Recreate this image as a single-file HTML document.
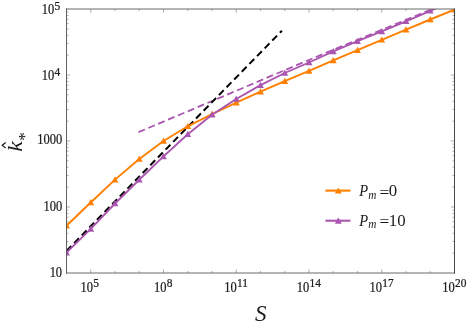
<!DOCTYPE html>
<html><head><meta charset="utf-8"><title>plot</title>
<style>
html,body{margin:0;padding:0;background:#fff;}
body{width:469px;height:327px;overflow:hidden;font-family:"Liberation Serif",serif;}
svg{display:block;position:absolute;left:0;top:0;will-change:transform;}
text{font-family:"Liberation Serif",serif;}
</style></head><body>
<svg width="469" height="327" viewBox="0 0 469 327">
<rect width="469" height="327" fill="#fff"/>
<defs><clipPath id="c"><rect x="66.50" y="9.00" width="388.00" height="264.00"/></clipPath></defs>

<path d="M90.75,273.0v-3.6M90.75,9.0v3.6M115.00,273.0v-2.0M115.00,9.0v2.0M139.25,273.0v-2.0M139.25,9.0v2.0M163.50,273.0v-3.6M163.50,9.0v3.6M187.75,273.0v-2.0M187.75,9.0v2.0M212.00,273.0v-2.0M212.00,9.0v2.0M236.25,273.0v-3.6M236.25,9.0v3.6M260.50,273.0v-2.0M260.50,9.0v2.0M284.75,273.0v-2.0M284.75,9.0v2.0M309.00,273.0v-3.6M309.00,9.0v3.6M333.25,273.0v-2.0M333.25,9.0v2.0M357.50,273.0v-2.0M357.50,9.0v2.0M381.75,273.0v-3.6M381.75,9.0v3.6M406.00,273.0v-2.0M406.00,9.0v2.0M430.25,273.0v-2.0M430.25,9.0v2.0M66.5,253.13h2.0M454.5,253.13h-2.0M66.5,241.51h2.0M454.5,241.51h-2.0M66.5,233.26h2.0M454.5,233.26h-2.0M66.5,226.87h2.0M454.5,226.87h-2.0M66.5,221.64h2.0M454.5,221.64h-2.0M66.5,217.22h2.0M454.5,217.22h-2.0M66.5,213.40h2.0M454.5,213.40h-2.0M66.5,210.02h2.0M454.5,210.02h-2.0M66.5,207.00h3.6M454.5,207.00h-3.6M66.5,187.13h2.0M454.5,187.13h-2.0M66.5,175.51h2.0M454.5,175.51h-2.0M66.5,167.26h2.0M454.5,167.26h-2.0M66.5,160.87h2.0M454.5,160.87h-2.0M66.5,155.64h2.0M454.5,155.64h-2.0M66.5,151.22h2.0M454.5,151.22h-2.0M66.5,147.40h2.0M454.5,147.40h-2.0M66.5,144.02h2.0M454.5,144.02h-2.0M66.5,141.00h3.6M454.5,141.00h-3.6M66.5,121.13h2.0M454.5,121.13h-2.0M66.5,109.51h2.0M454.5,109.51h-2.0M66.5,101.26h2.0M454.5,101.26h-2.0M66.5,94.87h2.0M454.5,94.87h-2.0M66.5,89.64h2.0M454.5,89.64h-2.0M66.5,85.22h2.0M454.5,85.22h-2.0M66.5,81.40h2.0M454.5,81.40h-2.0M66.5,78.02h2.0M454.5,78.02h-2.0M66.5,75.00h3.6M454.5,75.00h-3.6M66.5,55.13h2.0M454.5,55.13h-2.0M66.5,43.51h2.0M454.5,43.51h-2.0M66.5,35.26h2.0M454.5,35.26h-2.0M66.5,28.87h2.0M454.5,28.87h-2.0M66.5,23.64h2.0M454.5,23.64h-2.0M66.5,19.22h2.0M454.5,19.22h-2.0M66.5,15.40h2.0M454.5,15.40h-2.0M66.5,12.02h2.0M454.5,12.02h-2.0" stroke="#5c5c5c" stroke-width="0.5" fill="none"/>
<g clip-path="url(#c)">
<polyline points="138.5,132.2 320,55.3 454.5,-0.1" fill="none" stroke="#AA55AF" stroke-width="1.8" stroke-dasharray="7.0,3.7"/>
<line x1="66.5" y1="250.95" x2="281.9" y2="30.7" stroke="#000" stroke-width="2.0" stroke-dasharray="6.9,4.0"/>
<polyline points="66.50,225.70 90.75,202.50 115.00,179.60 139.25,159.00 163.50,141.00 187.75,126.30 212.00,114.20 236.25,102.60 260.50,91.70 284.75,81.20 309.00,70.90 333.25,60.40 357.50,50.10 381.75,39.80 406.00,29.60 430.25,19.50 454.50,9.50" fill="none" stroke="#FF7F00" stroke-width="1.9" stroke-linejoin="round"/><polygon points="66.50,222.30 63.05,228.50 69.95,228.50" fill="#FF7F00"/><polygon points="90.75,199.10 87.30,205.30 94.20,205.30" fill="#FF7F00"/><polygon points="115.00,176.20 111.55,182.40 118.45,182.40" fill="#FF7F00"/><polygon points="139.25,155.60 135.80,161.80 142.70,161.80" fill="#FF7F00"/><polygon points="163.50,137.60 160.05,143.80 166.95,143.80" fill="#FF7F00"/><polygon points="187.75,122.90 184.30,129.10 191.20,129.10" fill="#FF7F00"/><polygon points="212.00,110.80 208.55,117.00 215.45,117.00" fill="#FF7F00"/><polygon points="236.25,99.20 232.80,105.40 239.70,105.40" fill="#FF7F00"/><polygon points="260.50,88.30 257.05,94.50 263.95,94.50" fill="#FF7F00"/><polygon points="284.75,77.80 281.30,84.00 288.20,84.00" fill="#FF7F00"/><polygon points="309.00,67.50 305.55,73.70 312.45,73.70" fill="#FF7F00"/><polygon points="333.25,57.00 329.80,63.20 336.70,63.20" fill="#FF7F00"/><polygon points="357.50,46.70 354.05,52.90 360.95,52.90" fill="#FF7F00"/><polygon points="381.75,36.40 378.30,42.60 385.20,42.60" fill="#FF7F00"/><polygon points="406.00,26.20 402.55,32.40 409.45,32.40" fill="#FF7F00"/><polygon points="430.25,16.10 426.80,22.30 433.70,22.30" fill="#FF7F00"/><polygon points="454.50,6.10 451.05,12.30 457.95,12.30" fill="#FF7F00"/>
<polyline points="66.50,252.60 90.75,228.90 115.00,203.50 139.25,179.80 163.50,156.40 187.75,134.20 212.00,114.70 236.25,99.00 260.50,85.10 284.75,73.00 309.00,62.50 333.25,51.40 357.50,41.10 381.75,31.40 406.00,21.30 430.25,10.80 454.50,0.50" fill="none" stroke="#AA55AF" stroke-width="1.9" stroke-linejoin="round"/><polygon points="66.50,249.20 63.05,255.40 69.95,255.40" fill="#AA55AF"/><polygon points="90.75,225.50 87.30,231.70 94.20,231.70" fill="#AA55AF"/><polygon points="115.00,200.10 111.55,206.30 118.45,206.30" fill="#AA55AF"/><polygon points="139.25,176.40 135.80,182.60 142.70,182.60" fill="#AA55AF"/><polygon points="163.50,153.00 160.05,159.20 166.95,159.20" fill="#AA55AF"/><polygon points="187.75,130.80 184.30,137.00 191.20,137.00" fill="#AA55AF"/><polygon points="212.00,111.30 208.55,117.50 215.45,117.50" fill="#AA55AF"/><polygon points="236.25,95.60 232.80,101.80 239.70,101.80" fill="#AA55AF"/><polygon points="260.50,81.70 257.05,87.90 263.95,87.90" fill="#AA55AF"/><polygon points="284.75,69.60 281.30,75.80 288.20,75.80" fill="#AA55AF"/><polygon points="309.00,59.10 305.55,65.30 312.45,65.30" fill="#AA55AF"/><polygon points="333.25,48.00 329.80,54.20 336.70,54.20" fill="#AA55AF"/><polygon points="357.50,37.70 354.05,43.90 360.95,43.90" fill="#AA55AF"/><polygon points="381.75,28.00 378.30,34.20 385.20,34.20" fill="#AA55AF"/><polygon points="406.00,17.90 402.55,24.10 409.45,24.10" fill="#AA55AF"/><polygon points="430.25,7.40 426.80,13.60 433.70,13.60" fill="#AA55AF"/><polygon points="454.50,-2.90 451.05,3.30 457.95,3.30" fill="#AA55AF"/>
</g>
<path d="M66.0,9.0H455.0M66.0,273.0H455.0" stroke="#6a6a6a" stroke-width="1" fill="none"/>
<path d="M66.5,8.5V273.5" stroke="#505050" stroke-width="0.9" fill="none"/>
<path d="M454.5,8.5V273.5" stroke="#484848" stroke-width="1" fill="none"/>
<text transform="translate(89.75,291.6) scale(0.96,1.06)" font-size="13" fill="#1a1a1a" stroke="#1a1a1a" stroke-width="0.22" text-anchor="middle">10<tspan font-size="11.9" dy="-4.1" dx="0.3">5</tspan></text>
<text transform="translate(163.3,291.6) scale(0.96,1.06)" font-size="13" fill="#1a1a1a" stroke="#1a1a1a" stroke-width="0.22" text-anchor="middle">10<tspan font-size="11.9" dy="-4.1" dx="0.3">8</tspan></text>
<text transform="translate(236.05,291.6) scale(0.96,1.06)" font-size="13" fill="#1a1a1a" stroke="#1a1a1a" stroke-width="0.22" text-anchor="middle">10<tspan font-size="11.9" dy="-4.1" dx="0.3">11</tspan></text>
<text transform="translate(308.8,291.6) scale(0.96,1.06)" font-size="13" fill="#1a1a1a" stroke="#1a1a1a" stroke-width="0.22" text-anchor="middle">10<tspan font-size="11.9" dy="-4.1" dx="0.3">14</tspan></text>
<text transform="translate(381.55,291.6) scale(0.96,1.06)" font-size="13" fill="#1a1a1a" stroke="#1a1a1a" stroke-width="0.22" text-anchor="middle">10<tspan font-size="11.9" dy="-4.1" dx="0.3">17</tspan></text>
<text transform="translate(454.3,291.6) scale(0.96,1.06)" font-size="13" fill="#1a1a1a" stroke="#1a1a1a" stroke-width="0.22" text-anchor="middle">10<tspan font-size="11.9" dy="-4.1" dx="0.3">20</tspan></text>
<text transform="translate(62.1,276.5) scale(0.96,1.06)" font-size="13" fill="#1a1a1a" stroke="#1a1a1a" stroke-width="0.22" text-anchor="end">10</text>
<text transform="translate(62.2,210.8) scale(0.96,1.06)" font-size="13" fill="#1a1a1a" stroke="#1a1a1a" stroke-width="0.22" text-anchor="end">100</text>
<text transform="translate(62.2,144.0) scale(0.96,1.06)" font-size="13" fill="#1a1a1a" stroke="#1a1a1a" stroke-width="0.22" text-anchor="end">1000</text>
<text transform="translate(60.2,80.0) scale(0.96,1.06)" font-size="13" fill="#1a1a1a" stroke="#1a1a1a" stroke-width="0.22" text-anchor="end">10<tspan font-size="11.9" dy="-4.1" dx="0.3">4</tspan></text>
<text transform="translate(60.2,14.1) scale(0.96,1.06)" font-size="13" fill="#1a1a1a" stroke="#1a1a1a" stroke-width="0.22" text-anchor="end">10<tspan font-size="11.9" dy="-4.1" dx="0.3">5</tspan></text>
<text transform="translate(254.9,320.7) scale(0.96,1.0)" font-size="24" font-style="italic" fill="#1a1a1a">S</text>
<g transform="translate(21.9,151.7) rotate(-90)"><text transform="scale(1.04,0.955)" font-size="23" font-style="italic" fill="#1a1a1a">k</text><text x="11.0" y="8.2" font-size="17" fill="#1a1a1a">*</text></g>
<polyline points="5.7,142.5 2.2,145.3 5.7,148.1" fill="none" stroke="#1a1a1a" stroke-width="1.2"/>
<line x1="325.4" y1="190.60000000000002" x2="350.4" y2="190.60000000000002" stroke="#FF7F00" stroke-width="2.1"/><polygon points="338.30,187.40 334.85,193.60 341.75,193.60" fill="#FF7F00"/><text transform="translate(359.3,195.6) scale(0.97,1.06)" font-size="15" fill="#1a1a1a" font-style="italic">P<tspan font-size="11.6" dy="2.75" dx="0.2">m</tspan></text><text transform="translate(379.4,197.5) scale(1.16,1.09)" font-size="15" fill="#1a1a1a">=</text><text transform="translate(388.75,195.6) scale(1.12,1.09)" font-size="15" fill="#1a1a1a">0</text>
<line x1="325.4" y1="220.70000000000002" x2="350.4" y2="220.70000000000002" stroke="#AA55AF" stroke-width="2.1"/><polygon points="338.30,217.50 334.85,223.70 341.75,223.70" fill="#AA55AF"/><text transform="translate(359.3,225.5) scale(0.97,1.06)" font-size="15" fill="#1a1a1a" font-style="italic">P<tspan font-size="11.6" dy="2.75" dx="0.2">m</tspan></text><text transform="translate(379.4,227.4) scale(1.16,1.09)" font-size="15" fill="#1a1a1a">=</text><text transform="translate(388.75,225.5) scale(1.12,1.09)" font-size="15" fill="#1a1a1a">10</text>
</svg></body></html>
